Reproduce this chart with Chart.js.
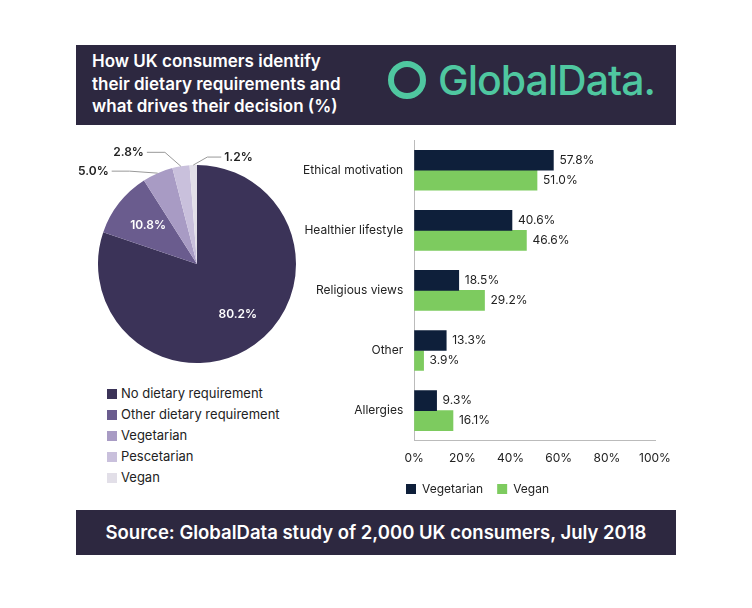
<!DOCTYPE html>
<html><head><meta charset="utf-8">
<script src="https://cdn.jsdelivr.net/npm/chart.js@4"></script>
<style>
body{margin:0;width:752px;height:608px;background:#fff;position:relative;font-family:Inter,sans-serif;overflow:hidden}
.hdr{position:absolute;left:76px;top:45px;width:600px;height:80px;background:#2d2840}
.hdr .t{position:absolute;left:16px;top:5px;color:#fff;font:600 17px Inter,sans-serif;line-height:22.5px}
.logo{position:absolute;left:312px;top:10px;color:#4fc7a0;font:500 41px Inter,sans-serif;letter-spacing:-1px}
.logo .ring{display:inline-block;width:38px;height:38px;border:6px solid #4fc7a0;border-radius:50%;box-sizing:border-box;vertical-align:-4px;margin-right:12px;position:relative}
.ftr{position:absolute;left:76px;top:510px;width:600px;height:45px;background:#2d2840;color:#fff;font:600 18.5px Inter,sans-serif;text-align:center;line-height:45px}
#pie{position:absolute;left:60px;top:140px}
#bar{position:absolute;left:300px;top:130px}
.lg{position:absolute;left:107px;top:383px;font:13px Inter,sans-serif;color:#222;line-height:21px}
.lg span{display:inline-block;width:10px;height:10px;margin-right:4px;vertical-align:-1px}
</style></head><body>
<div class="hdr"><div class="t">How UK consumers identify<br>their dietary requirements and<br>what drives their decision (%)</div>
<div class="logo"><span class="ring"></span>GlobalData.</div></div>
<canvas id="pie" width="240" height="240"></canvas>
<div class="lg" id="lg"></div>
<canvas id="bar" width="375" height="375"></canvas>
<div class="ftr">Source: GlobalData study of 2,000 UK consumers, July 2018</div>
<script>
const pieLabels = ["No dietary requirement","Other dietary requirement","Vegetarian","Pescetarian","Vegan"];
const pieValues = [80.2, 10.8, 5.0, 2.8, 1.2];
const pieColors = ["#3b3358","#6a5c8e","#a89bc4","#c9c0dc","#e2dfe8"];
document.getElementById('lg').innerHTML = pieLabels.map((l,i)=>`<div><span style="background:${pieColors[i]}"></span>${l}</div>`).join('');

// leader line offsets for the small slices: [dx, dy, align]
const outside = {2:[-28,-2,'right'],3:[-16,-14,'right'],4:[14,-8,'left']};
const pieLabelPlugin = {
  id:'pieLabels',
  afterDatasetsDraw(chart){
    const ctx = chart.ctx;
    chart.getDatasetMeta(0).data.forEach((arc,i)=>{
      const v = pieValues[i].toFixed(1)+'%';
      ctx.save();
      ctx.font = '600 12px Inter,sans-serif';
      if (i < 2) {
        const p = arc.tooltipPosition();
        ctx.fillStyle = '#fff';
        ctx.textAlign = 'center'; ctx.textBaseline = 'middle';
        const off = i==0 ? [12,10] : [-10,-8];
        ctx.fillText(v, p.x+off[0], p.y+off[1]);
      } else {
        const mid = (arc.startAngle+arc.endAngle)/2;
        const x0 = arc.x + Math.cos(mid)*arc.outerRadius, y0 = arc.y + Math.sin(mid)*arc.outerRadius;
        const [dx,dy,al] = outside[i];
        const x1 = x0+dx, y1 = y0+dy, x2 = x1 + (al=='right'?-18:14);
        ctx.strokeStyle = '#999'; ctx.lineWidth = 1;
        ctx.beginPath(); ctx.moveTo(x0,y0); ctx.lineTo(x1,y1); ctx.lineTo(x2,y1); ctx.stroke();
        ctx.fillStyle = '#222'; ctx.textAlign = al; ctx.textBaseline = 'middle';
        ctx.fillText(v, x2+(al=='right'?-3:3), y1);
      }
      ctx.restore();
    });
  }
};
new Chart(document.getElementById('pie'), {
  type:'pie',
  data:{labels:pieLabels, datasets:[{data:pieValues, backgroundColor:pieColors, borderWidth:0}]},
  plugins:[pieLabelPlugin],
  options:{responsive:false, animation:false,
    layout:{padding:{left:38,right:4,top:25,bottom:17}},
    plugins:{legend:{display:false}, tooltip:{enabled:false}}}
});

const cats = ["Ethical motivation","Healthier lifestyle","Religious views","Other","Allergies"];
const barData = {
  Vegetarian: [57.8, 40.6, 18.5, 13.3, 9.3],
  Vegan: [51.0, 46.6, 29.2, 3.9, 16.1]
};
const barLabelPlugin = {
  id:'barLabels',
  afterDatasetsDraw(chart){
    const ctx = chart.ctx;
    chart.data.datasets.forEach((ds,di)=>{
      chart.getDatasetMeta(di).data.forEach((b,i)=>{
        ctx.save();
        ctx.font = '12px Inter,sans-serif'; ctx.fillStyle = '#222';
        ctx.textBaseline = 'middle';
        ctx.fillText(ds.data[i].toFixed(1)+'%', b.x+6, b.y);
        ctx.restore();
      });
    });
  }
};
new Chart(document.getElementById('bar'), {
  type:'bar',
  data:{labels:cats, datasets:[
    {label:'Vegetarian', data:barData.Vegetarian, backgroundColor:'#0e1f3a', barThickness:20},
    {label:'Vegan', data:barData.Vegan, backgroundColor:'#7dcb5f', barThickness:20}
  ]},
  plugins:[barLabelPlugin],
  options:{indexAxis:'y', responsive:false, animation:false,
    layout:{padding:{right:20,top:0}},
    scales:{
      x:{min:0,max:100,ticks:{stepSize:20,callback:v=>v+'%',color:'#222',font:{size:12,family:'Inter,sans-serif'}},
        grid:{display:false}, border:{color:'#bbb'}},
      y:{ticks:{color:'#222',font:{size:12,family:'Inter,sans-serif'}},
        grid:{display:false}, border:{color:'#bbb'}}
    },
    plugins:{tooltip:{enabled:false},
      legend:{position:'bottom',labels:{boxWidth:10,boxHeight:10,color:'#222',padding:14,font:{size:12,family:'Inter,sans-serif'}}}}}
});
</script>
</body></html>
